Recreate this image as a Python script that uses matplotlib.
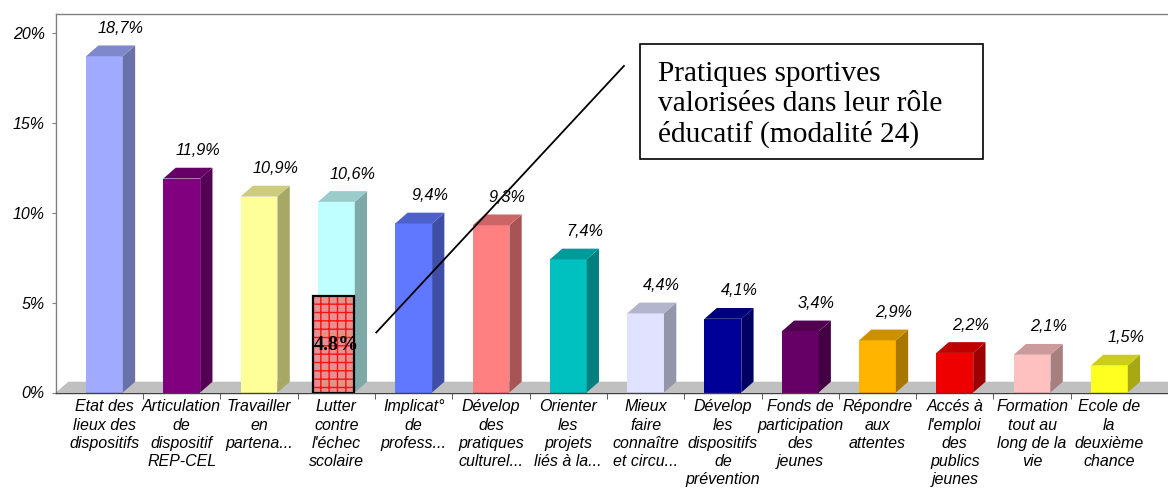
import matplotlib
matplotlib.use("Agg")
import matplotlib.pyplot as plt
from matplotlib.patches import Polygon, Rectangle
from matplotlib.colors import to_rgb
import numpy as np

categories = [
    "Etat des\nlieux des\ndispositifs",
    "Articulation\nde\ndispositif\nREP-CEL",
    "Travailler\nen\npartena...",
    "Lutter\ncontre\nl'échec\nscolaire",
    "Implicat°\nde\nprofess...",
    "Dévelop\ndes\npratiques\nculturel...",
    "Orienter\nles\nprojets\nliés à la...",
    "Mieux\nfaire\nconnaître\net circu...",
    "Dévelop\nles\ndispositifs\nde\nprévention",
    "Fonds de\nparticipation\ndes\njeunes",
    "Répondre\naux\nattentes",
    "Accés à\nl'emploi\ndes\npublics\njeunes",
    "Formation\ntout au\nlong de la\nvie",
    "Ecole de\nla\ndeuxième\nchance",
]
values = [18.7, 11.9, 10.9, 10.6, 9.4, 9.3, 7.4, 4.4, 4.1, 3.4, 2.9, 2.2, 2.1, 1.5]
value_labels = ["18,7%", "11,9%", "10,9%", "10,6%", "9,4%", "9,3%", "7,4%",
                "4,4%", "4,1%", "3,4%", "2,9%", "2,2%", "2,1%", "1,5%"]
bar_colors = ["#A0AAFF", "#800080", "#FFFF99", "#C0FFFF", "#6078FF", "#FF8080",
              "#00C0C0", "#E0E2FF", "#000099", "#660066", "#FFB400", "#EE0000",
              "#FFC0C0", "#FFFF20"]
y_ticks = [0, 5, 10, 15, 20]
y_tick_labels = ["0%", "5%", "10%", "15%", "20%"]

highlight_index = 3
highlight_value = 5.38
highlight_label = "4.8%"
annotation_text = "Pratiques sportives\nvalorisées dans leur rôle\néducatif (modalité 24)"

W, H = 1168, 499
fig = plt.figure(figsize=(W / 100, H / 100), dpi=100)
ax = fig.add_axes([56 / W, 1 - 392.5 / H, 1 - 56 / W, (392.5 - 14) / H])
xl, xr = -0.627, 13.758
ax.set_xlim(xl, xr)
ax.set_ylim(0, 21.05)

bw = 0.476
dx, dy = 0.159, 0.60

# floor
ax.add_patch(Polygon([(xl, 0), (xl + dx, dy), (xr + 1, dy), (xr + 1, 0)],
                     closed=True, facecolor="#C0C0C0", edgecolor="none", zorder=1))

def shade(c, f):
    r, g, b = to_rgb(c)
    return (r * f, g * f, b * f)

for i, (v, c) in enumerate(zip(values, bar_colors)):
    x0, x1 = i - bw / 2, i + bw / 2
    ax.add_patch(Rectangle((x0, 0), bw, v, facecolor=c, edgecolor="none", zorder=3))
    ax.add_patch(Polygon([(x1, 0), (x1 + dx, dy), (x1 + dx, v + dy), (x1, v)],
                         closed=True, facecolor=shade(c, 0.66), edgecolor="none", zorder=3))
    ax.add_patch(Polygon([(x0, v), (x0 + dx, v + dy), (x1 + dx, v + dy), (x1, v)],
                         closed=True, facecolor=shade(c, 0.8), edgecolor="none", zorder=3))
    ax.text(i + 0.21, v + 1.55, value_labels[i], ha="center", va="center",
            fontsize=11.7, style="italic", family="Liberation Sans", zorder=5)

# highlight overlay
hx = highlight_index - 0.30
hw = 0.53
ax.add_patch(Rectangle((hx, 0), hw, highlight_value, facecolor="#E89090",
                       edgecolor="#FF1010", hatch="++", linewidth=0, zorder=6))
ax.add_patch(Rectangle((hx, 0), hw, highlight_value, facecolor="none",
                       edgecolor="black", linewidth=1.6, zorder=7))
ax.text(highlight_index + 0.004, 2.65, highlight_label, ha="center", va="center",
        fontsize=14.5, fontweight="bold", family="Liberation Serif", zorder=8)

# connector + annotation box
ax.plot([highlight_index + 0.508, highlight_index + 3.728], [3.3, 18.2],
        color="black", linewidth=1.3, zorder=9, solid_capstyle="butt")
ax.add_patch(Rectangle((6.93, 12.99), 4.43, 6.39, facecolor="white",
                       edgecolor="black", linewidth=1.2, zorder=9))
ax.text(7.16, 18.45, annotation_text, ha="left", va="top", fontsize=21.2,
        family="Liberation Serif", linespacing=1.2, zorder=10)

# axes styling
ax.spines["right"].set_visible(False)
ax.spines["top"].set_color("#808080")
ax.spines["left"].set_color("#808080")
ax.spines["bottom"].set_color("#404040")
ax.spines["bottom"].set_zorder(4)
for s in ax.spines.values():
    s.set_linewidth(1.0)

ax.set_yticks(y_ticks)
ax.set_yticklabels(y_tick_labels, fontsize=11.5, style="italic", family="Liberation Sans")
ax.tick_params(axis="y", length=3, color="#808080", pad=5)

ax.set_xticks(range(len(categories)))
ax.set_xticklabels(categories, fontsize=11.5, style="italic", family="Liberation Sans",
                   linespacing=1.26)
ax.tick_params(axis="x", which="major", length=0, pad=5)
ax.set_xticks(np.arange(len(categories) - 1) + 0.5, minor=True)
ax.tick_params(axis="x", which="minor", length=4, color="#404040", direction="out")

fig.savefig("out.png", dpi=100)
